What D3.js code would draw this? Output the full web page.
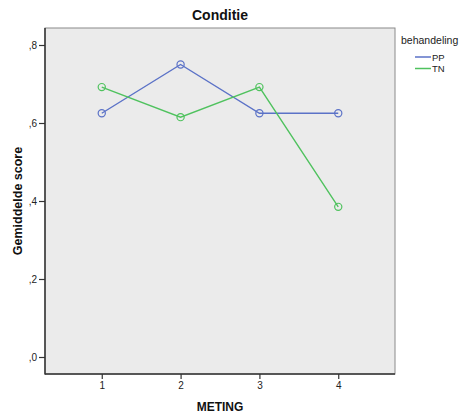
<!DOCTYPE html>
<html><head><meta charset="utf-8">
<script src="https://cdn.jsdelivr.net/npm/d3@7"></script>
<style>body{margin:0;background:#fff}svg{display:block}</style>
</head><body><svg id="c" width="463" height="416"></svg>
<script>
const categories = [1, 2, 3, 4];
const seriesNames = ["PP", "TN"];
const ppValues = [0.625, 0.75, 0.625, 0.625];
const tnValues = [0.692, 0.615, 0.692, 0.385];
const yTicks = [0, 0.2, 0.4, 0.6, 0.8];
const yTickLabels = [",0", ",2", ",4", ",6", ",8"];
const colors = ["#5b72c7", "#4fc25e"];

const svg = d3.select("#c");
const L = 45, T = 28, R = 395, B = 374;
const font = "Arial, 'Liberation Sans', sans-serif";

const x = d3.scaleLinear().domain([0.28, 4.72]).range([L, R]);
const y = d3.scaleLinear().domain([0, 0.8]).range([357, 45]);

svg.append("rect").attr("x", L).attr("y", T).attr("width", R - L).attr("height", B - T)
  .attr("fill", "#ebebeb").attr("stroke", "#8a8a8a").attr("stroke-width", 1);

// axes
const xAxis = svg.append("g").attr("transform", `translate(0,${B})`)
  .call(d3.axisBottom(x).tickValues(categories).tickSize(5).tickPadding(3).tickFormat(d3.format("d")));
const yAxis = svg.append("g").attr("transform", `translate(${L},0)`)
  .call(d3.axisLeft(y).tickValues(yTicks).tickSize(6).tickPadding(2).tickFormat((d, i) => yTickLabels[i]));
[xAxis, yAxis].forEach(a => {
  a.select(".domain").remove();
  a.selectAll("line").attr("stroke", "#333").attr("stroke-width", 1.2);
  a.selectAll("text").attr("fill", "#222").style("font-family", font).style("font-size", "10px");
});
svg.append("line").attr("x1", L).attr("x2", L).attr("y1", T).attr("y2", B + 0.5).attr("stroke", "#333").attr("stroke-width", 1.5);
svg.append("line").attr("x1", L).attr("x2", R).attr("y1", B).attr("y2", B).attr("stroke", "#333").attr("stroke-width", 1.5);

const data = [ppValues, tnValues];
const line = d3.line().x((d, i) => x(categories[i])).y(d => y(d));
data.forEach((vals, s) => {
  svg.append("path").datum(vals).attr("d", line).attr("fill", "none")
    .attr("stroke", colors[s]).attr("stroke-width", 1.4);
  svg.selectAll(null).data(vals).enter().append("circle")
    .attr("cx", (d, i) => x(categories[i])).attr("cy", d => y(d)).attr("r", 3.6)
    .attr("fill", "none").attr("stroke", colors[s]).attr("stroke-width", 1.2);
});

svg.append("text").attr("x", 220).attr("y", 20).attr("text-anchor", "middle")
  .style("font-family", font).style("font-size", "14px").style("font-weight", "bold").attr("fill", "#111").text("Conditie");
svg.append("text").attr("x", 220).attr("y", 411).attr("text-anchor", "middle")
  .style("font-family", font).style("font-size", "12px").style("font-weight", "bold").attr("fill", "#111").text("METING");
svg.append("text").attr("transform", "translate(22,201) rotate(-90)").attr("text-anchor", "middle")
  .style("font-family", font).style("font-size", "12.5px").style("font-weight", "bold").attr("fill", "#111").text("Gemiddelde score");

// legend
svg.append("text").attr("x", 401).attr("y", 44).style("font-family", font).style("font-size", "10.5px")
  .attr("fill", "#222").text("behandeling");
seriesNames.forEach((n, i) => {
  const yy = 57 + i * 11.5;
  svg.append("line").attr("x1", 415).attr("x2", 431).attr("y1", yy).attr("y2", yy)
    .attr("stroke", colors[i]).attr("stroke-width", 1.5);
  svg.append("text").attr("x", 432).attr("y", yy + 3.5).style("font-family", font).style("font-size", "9.5px")
    .attr("fill", "#222").text(n);
});
</script></body></html>
